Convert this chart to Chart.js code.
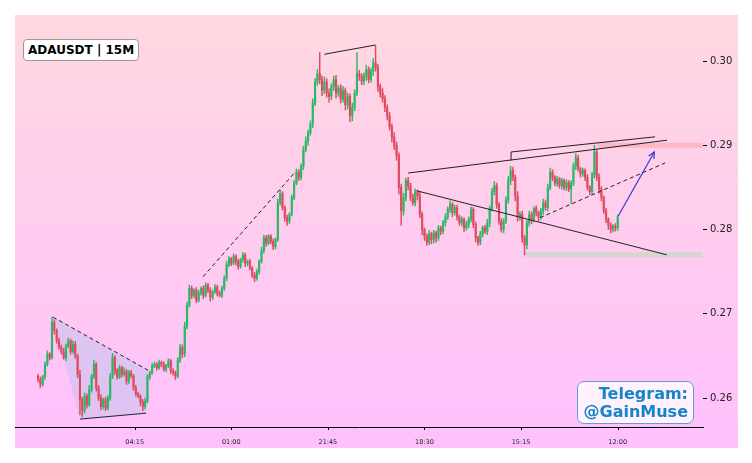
<!DOCTYPE html>
<html>
<head>
<meta charset="utf-8">
<script src="https://cdn.jsdelivr.net/npm/chart.js@4.4.0/dist/chart.umd.min.js"></script>
<style>
  html, body { margin: 0; padding: 0; background: #fff; }
  body { width: 752px; height: 463px; position: relative; overflow: hidden; font-family: "DejaVu Sans", sans-serif; }
  #wrap { position: absolute; left: 15px; top: 15px; width: 723px; height: 433px; }
  #pair {
    position: absolute; left: 23px; top: 39px; box-sizing: border-box; height: 22px;
    padding: 0 4px; border: 1px solid #9a9a9a; border-radius: 4px; background: #fff;
    font: bold 12px "DejaVu Sans", sans-serif; line-height: 20px; color: #000; white-space: nowrap;
  }
  #promo {
    position: absolute; left: 577px; top: 381px; width: 117px; height: 43px; box-sizing: border-box;
    padding: 3px 5px 0 0; border: 1px solid #5d9fd6; border-radius: 7px; background: rgba(255, 250, 253, 0.85);
    font: bold 16px "DejaVu Sans", sans-serif; line-height: 18px; color: #1485c9; text-align: right;
  }
</style>
</head>
<body>
<div id="wrap"><canvas id="chart"></canvas></div>
<div id="pair">ADAUSDT | 15M</div>
<div id="promo">Telegram:<br>@GainMuse</div>
<script>
// ── Kursdaten (Schlusskurse, je Kerze 2 x 15-Minuten-Slots) ──────────
const firstOpen = 0.2626;

const closesWedge = [
  0.2622, 0.2616, 0.2625, 0.2640, 0.2652, 0.2648, 0.2690, 0.2680, 0.2668, 0.2660,
  0.2655, 0.2648, 0.2662, 0.2668, 0.2655, 0.2664, 0.2650, 0.2628, 0.2598, 0.2585,
  0.2602, 0.2592, 0.2610, 0.2625, 0.2640, 0.2612, 0.2600, 0.2590, 0.2598, 0.2588,
  0.2600, 0.2625, 0.2648, 0.2632, 0.2625, 0.2636, 0.2628, 0.2632, 0.2620, 0.2630,
  0.2626, 0.2612, 0.2605, 0.2602, 0.2595, 0.2590, 0.2596, 0.2625, 0.2630, 0.2638
];
const closesBreakout = [
  0.2640, 0.2636, 0.2642, 0.2640, 0.2634, 0.2638, 0.2644, 0.2632, 0.2630, 0.2626,
  0.2645, 0.2660, 0.2652, 0.2685, 0.2710, 0.2730, 0.2722, 0.2728, 0.2716, 0.2725,
  0.2730, 0.2722, 0.2734, 0.2728, 0.2720, 0.2726, 0.2732, 0.2724, 0.2722, 0.2730,
  0.2742, 0.2758, 0.2765, 0.2760, 0.2768, 0.2762, 0.2756, 0.2764, 0.2770, 0.2760,
  0.2762, 0.2754, 0.2746, 0.2742, 0.2750, 0.2762, 0.2775, 0.2790, 0.2784, 0.2792
];
const closesPeak = [
  0.2786, 0.2780, 0.2788, 0.2832, 0.2842, 0.2826, 0.2814, 0.2810, 0.2818, 0.2838,
  0.2855, 0.2868, 0.2862, 0.2875, 0.2895, 0.2905, 0.2915, 0.2925, 0.2950, 0.2975,
  0.2985, 0.2978, 0.2965, 0.2975, 0.2962, 0.2958, 0.2970, 0.2978, 0.2962, 0.2968,
  0.2955, 0.2965, 0.2948, 0.2958, 0.2935, 0.2945, 0.2962, 0.2985, 0.2982, 0.2976,
  0.2982, 0.2990, 0.2978, 0.2988, 0.2998, 0.2992, 0.2970, 0.2962, 0.2955, 0.2945
];
const closesDrop = [
  0.2935, 0.2922, 0.2910, 0.2900, 0.2888, 0.2850, 0.2822, 0.2838, 0.2858, 0.2852,
  0.2838, 0.2832, 0.2845, 0.2840, 0.2818, 0.2800, 0.2792, 0.2785, 0.2795, 0.2788,
  0.2796, 0.2790, 0.2802, 0.2798, 0.2808, 0.2815, 0.2824, 0.2830, 0.2820, 0.2826,
  0.2815, 0.2808, 0.2812, 0.2802, 0.2806, 0.2812, 0.2824, 0.2806, 0.2790, 0.2785,
  0.2795, 0.2802, 0.2798, 0.2808, 0.2825, 0.2845, 0.2852, 0.2830, 0.2810, 0.2800
];
const closesTriangle = [
  0.2810, 0.2835, 0.2858, 0.2870, 0.2862, 0.2840, 0.2815, 0.2818, 0.2790, 0.2782,
  0.2808, 0.2818, 0.2812, 0.2825, 0.2820, 0.2815, 0.2822, 0.2832, 0.2826, 0.2850,
  0.2868, 0.2862, 0.2855, 0.2860, 0.2852, 0.2858, 0.2850, 0.2856, 0.2848, 0.2855,
  0.2875, 0.2885, 0.2872, 0.2866, 0.2870, 0.2862, 0.2850, 0.2845, 0.2865, 0.2892,
  0.2862, 0.2848, 0.2838, 0.2822, 0.2812, 0.2805, 0.2800, 0.2804, 0.2802, 0.2815
];

// Dochtlaengen in 0.0001-Schritten (oben / unten)
const wickUp = [
  2,3,2,3,4,2,6,3,2,3, 3,4,2,3,2,4,3,2,5,3, 4,3,5,3,5,2,3,4,2,3, 3,4,5,2,3,3,2,4,2,3, 3,2,3,2,2,3,4,3,2,3,
  3,2,3,2,3,2,3,2,3,2, 3,4,3,5,4,4,3,2,3,3, 2,3,3,2,3,2,3,2,3,3, 3,4,3,2,3,2,3,2,3,2, 2,3,2,3,3,2,4,3,3,2,
  2,3,2,4,5,3,2,3,2,3, 3,4,3,3,4,5,3,4,5,4, 5,25,4,6,4,5,3,4,5,3, 4,5,3,4,3,5,4,25,4,3, 4,5,3,4,5,20,4,3,5,4,
  3,4,3,5,4,3,4,5,3,4, 3,4,3,2,4,3,2,3,4,2, 3,2,3,2,3,4,3,4,2,3, 3,2,3,2,4,3,3,2,3,2, 3,2,3,4,3,4,5,3,2,3,
  3,4,5,5,4,3,5,3,4,3, 3,4,3,2,3,2,3,4,3,4, 5,3,2,3,2,3,2,3,2,3, 4,5,3,2,3,2,3,2,3,8, 3,4,3,2,3,2,3,2,3,2
];
const wickDown = [
  3,4,2,3,2,3,2,4,3,2, 3,2,4,2,3,2,3,4,18,7, 3,4,2,3,2,4,3,4,3,3, 2,3,2,4,3,2,3,2,4,3, 2,3,3,2,4,5,3,2,3,2,
  2,3,2,3,2,3,2,3,3,4, 2,3,4,3,3,2,4,3,3,2, 3,4,2,3,5,3,2,3,2,3, 2,3,2,3,2,4,3,2,3,4, 3,2,3,4,2,3,2,3,4,2,
  3,4,3,2,3,3,4,5,3,2, 3,2,4,3,4,3,5,3,4,3, 4,5,6,4,5,7,4,5,6,4, 5,4,6,5,7,6,4,3,5,4, 4,5,4,3,5,4,6,5,4,5,
  5,4,6,5,6,8,17,5,4,5, 4,3,4,5,4,6,5,4,3,5, 4,5,3,4,3,4,3,4,5,3, 4,3,4,5,3,4,3,4,5,4, 3,4,3,4,5,3,4,5,4,3,
  4,3,4,5,4,6,5,4,5,12, 5,4,5,3,4,5,3,4,3,4, 3,4,3,4,3,4,3,4,3,17, 3,4,3,4,3,4,3,4,3,4, 4,5,4,3,4,5,4,3,4,3
];

// Achsen (x in 15-Minuten-Slots)
const xTickPositions = [83, 166, 249, 332, 415, 498];
const xTickLabels = ['04:15', '01:00', '21:45', '18:30', '15:15', '12:00'];
const yTickValues = [0.26, 0.27, 0.28, 0.29, 0.30];

// Zeichnungen im Chart: [x-Slot, Preis]
const wedgeTop = [[12.9, 0.2696], [94.5, 0.2633]];
const wedgeBottom = [[36.1, 0.2575], [92.8, 0.2582]];
const wedgeShade = [[12.9, 0.2696], [94.5, 0.2633], [92.8, 0.2582], [36.1, 0.2575]];
const rallyLine = [[141.8, 0.2744], [220.8, 0.2868]];
const peakLine = [[246, 0.3008], [290, 0.3019]];
const upperLineA = [[318, 0.2867], [540.4, 0.2906]];
const upperLineB = [[406.4, 0.2882], [406.4, 0.2892], [530.1, 0.2910]];
const lowerLine = [[325.3, 0.2846], [540.1, 0.2770]];
const triangleDash = [[431.3, 0.2814], [538.7, 0.2879]];
const targetArrow = [[498.5, 0.2816], [529.5, 0.2892]];
const resistZone = [[481, 0.2900], [571, 0.2900]];
const supportZone = [[416.4, 0.2770], [571, 0.2770]];

const TICK = 0.0001;
const BAR_STEP = 2;
const GREEN = '#2bb866';
const RED = '#e04a5e';

const closes = [...closesWedge, ...closesBreakout, ...closesPeak, ...closesDrop, ...closesTriangle];
const bodies = [], wicks = [], colors = [];
closes.forEach((c, i) => {
  const o = i === 0 ? firstOpen : closes[i - 1];
  const hi = Math.max(o, c) + wickUp[i] * TICK;
  const lo = Math.min(o, c) - wickDown[i] * TICK;
  const x = i * BAR_STEP;
  bodies.push({ x, y: [o, c] });
  wicks.push({ x, y: [lo, hi] });
  colors.push(c >= o ? GREEN : RED);
});

function pts(arr) {
  return arr.map(p => ({ x: p[0], y: p[1] }));
}

function seg(label, arr, color, width, dash, order) {
  return {
    type: 'line', label, data: pts(arr), borderColor: color, borderWidth: width,
    borderDash: dash || [], pointRadius: 0, fill: false, tension: 0, order
  };
}

// Hintergrund-Verlauf ueber die ganze Flaeche
const bgPlugin = {
  id: 'bg',
  beforeDraw(chart) {
    const { ctx, width, height } = chart;
    const g = ctx.createLinearGradient(0, 0, 0, height);
    g.addColorStop(0, '#ffd8e0');
    g.addColorStop(1, '#ffc0fd');
    ctx.save();
    ctx.fillStyle = g;
    ctx.fillRect(0, 0, width, height);
    ctx.restore();
  }
};

// Flaeche im Keil links
const shadePlugin = {
  id: 'shade',
  beforeDatasetsDraw(chart) {
    const { ctx, scales: { x, y } } = chart;
    ctx.save();
    ctx.beginPath();
    wedgeShade.forEach((p, i) => {
      const px = x.getPixelForValue(p[0]), py = y.getPixelForValue(p[1]);
      if (i === 0) ctx.moveTo(px, py); else ctx.lineTo(px, py);
    });
    ctx.closePath();
    ctx.fillStyle = 'rgba(190, 195, 235, 0.5)';
    ctx.fill();
    ctx.restore();
  }
};

// kleine Striche unter der x-Achse genau an den Beschriftungen
const xTickMarks = {
  id: 'xTickMarks',
  afterDraw(chart) {
    const { ctx, scales: { x } } = chart;
    ctx.save();
    ctx.strokeStyle = '#000';
    ctx.lineWidth = 1;
    ctx.beginPath();
    xTickPositions.forEach(v => {
      const px = Math.round(x.getPixelForValue(v)) + 0.5;
      ctx.moveTo(px, x.top);
      ctx.lineTo(px, x.top + 3);
    });
    ctx.stroke();
    ctx.restore();
  }
};

// Pfeilspitze am Ende der blauen Linie
const arrowPlugin = {
  id: 'arrowHead',
  afterDatasetsDraw(chart) {
    const idx = chart.data.datasets.findIndex(d => d.label === 'arrow');
    const meta = chart.getDatasetMeta(idx);
    const a = meta.data[0], b = meta.data[1];
    const ang = Math.atan2(b.y - a.y, b.x - a.x);
    const len = 7, spread = 0.45;
    const ctx = chart.ctx;
    ctx.save();
    ctx.strokeStyle = '#3a33e0';
    ctx.lineWidth = 1.2;
    ctx.beginPath();
    ctx.moveTo(b.x - len * Math.cos(ang - spread), b.y - len * Math.sin(ang - spread));
    ctx.lineTo(b.x, b.y);
    ctx.lineTo(b.x - len * Math.cos(ang + spread), b.y - len * Math.sin(ang + spread));
    ctx.stroke();
    ctx.restore();
  }
};

function noPad(s) {
  s.paddingTop = 0; s.paddingBottom = 0; s.paddingLeft = 0; s.paddingRight = 0;
}

new Chart(document.getElementById('chart'), {
  type: 'bar',
  data: {
    datasets: [
      seg('resist', resistZone, 'rgba(255, 180, 195, 0.9)', 5, null, 5),
      seg('support', supportZone, 'rgba(210, 215, 205, 0.9)', 5, null, 5),
      { type: 'bar', label: 'wicks', data: wicks, backgroundColor: colors, barThickness: 0.8, grouped: false, order: 4 },
      { type: 'bar', label: 'bodies', data: bodies, backgroundColor: colors, barThickness: 1.5, minBarLength: 1, grouped: false, order: 3 },
      seg('wedgeTop', wedgeTop, '#222', 1, [4, 3], 1),
      seg('wedgeBottom', wedgeBottom, '#222', 1, null, 1),
      seg('rally', rallyLine, '#222', 1, [4, 3], 1),
      seg('peak', peakLine, '#222', 1, null, 1),
      seg('upperA', upperLineA, '#222', 1, null, 1),
      seg('upperB', upperLineB, '#222', 1, null, 1),
      seg('lower', lowerLine, '#222', 1, null, 1),
      seg('triDash', triangleDash, '#222', 1, [4, 3], 1),
      seg('arrow', targetArrow, '#3a33e0', 1.2, null, 0)
    ]
  },
  options: {
    responsive: true,
    maintainAspectRatio: false,
    animation: false,
    events: [],
    layout: { padding: 0 },
    plugins: { legend: { display: false }, tooltip: { enabled: false } },
    scales: {
      x: {
        type: 'linear',
        min: -19.8,
        max: 571.3,
        offset: false,
        afterFit: (s) => { s.height = 21; noPad(s); },
        afterBuildTicks: (s) => { s.ticks = xTickPositions.map(v => ({ value: v })); },
        grid: { display: false },
        border: { display: true, color: '#000', width: 1 },
        ticks: {
          autoSkip: false, maxRotation: 0, padding: 3, color: '#222',
          font: { family: 'DejaVu Sans', size: 6.5 },
          callback: (v, i) => xTickLabels[i]
        }
      },
      y: {
        type: 'linear',
        position: 'right',
        min: 0.25656,
        max: 0.30546,
        afterFit: (s) => { s.width = 35; noPad(s); },
        afterBuildTicks: (s) => { s.ticks = yTickValues.map(v => ({ value: v })); },
        grid: { drawOnChartArea: false, drawTicks: true, tickLength: 4, color: '#000' },
        border: { display: false },
        ticks: {
          padding: 3, color: '#222',
          font: { family: 'DejaVu Sans', size: 10 },
          callback: (v) => Number(v).toFixed(2)
        }
      }
    }
  },
  plugins: [bgPlugin, shadePlugin, xTickMarks, arrowPlugin]
});
</script>
</body>
</html>
